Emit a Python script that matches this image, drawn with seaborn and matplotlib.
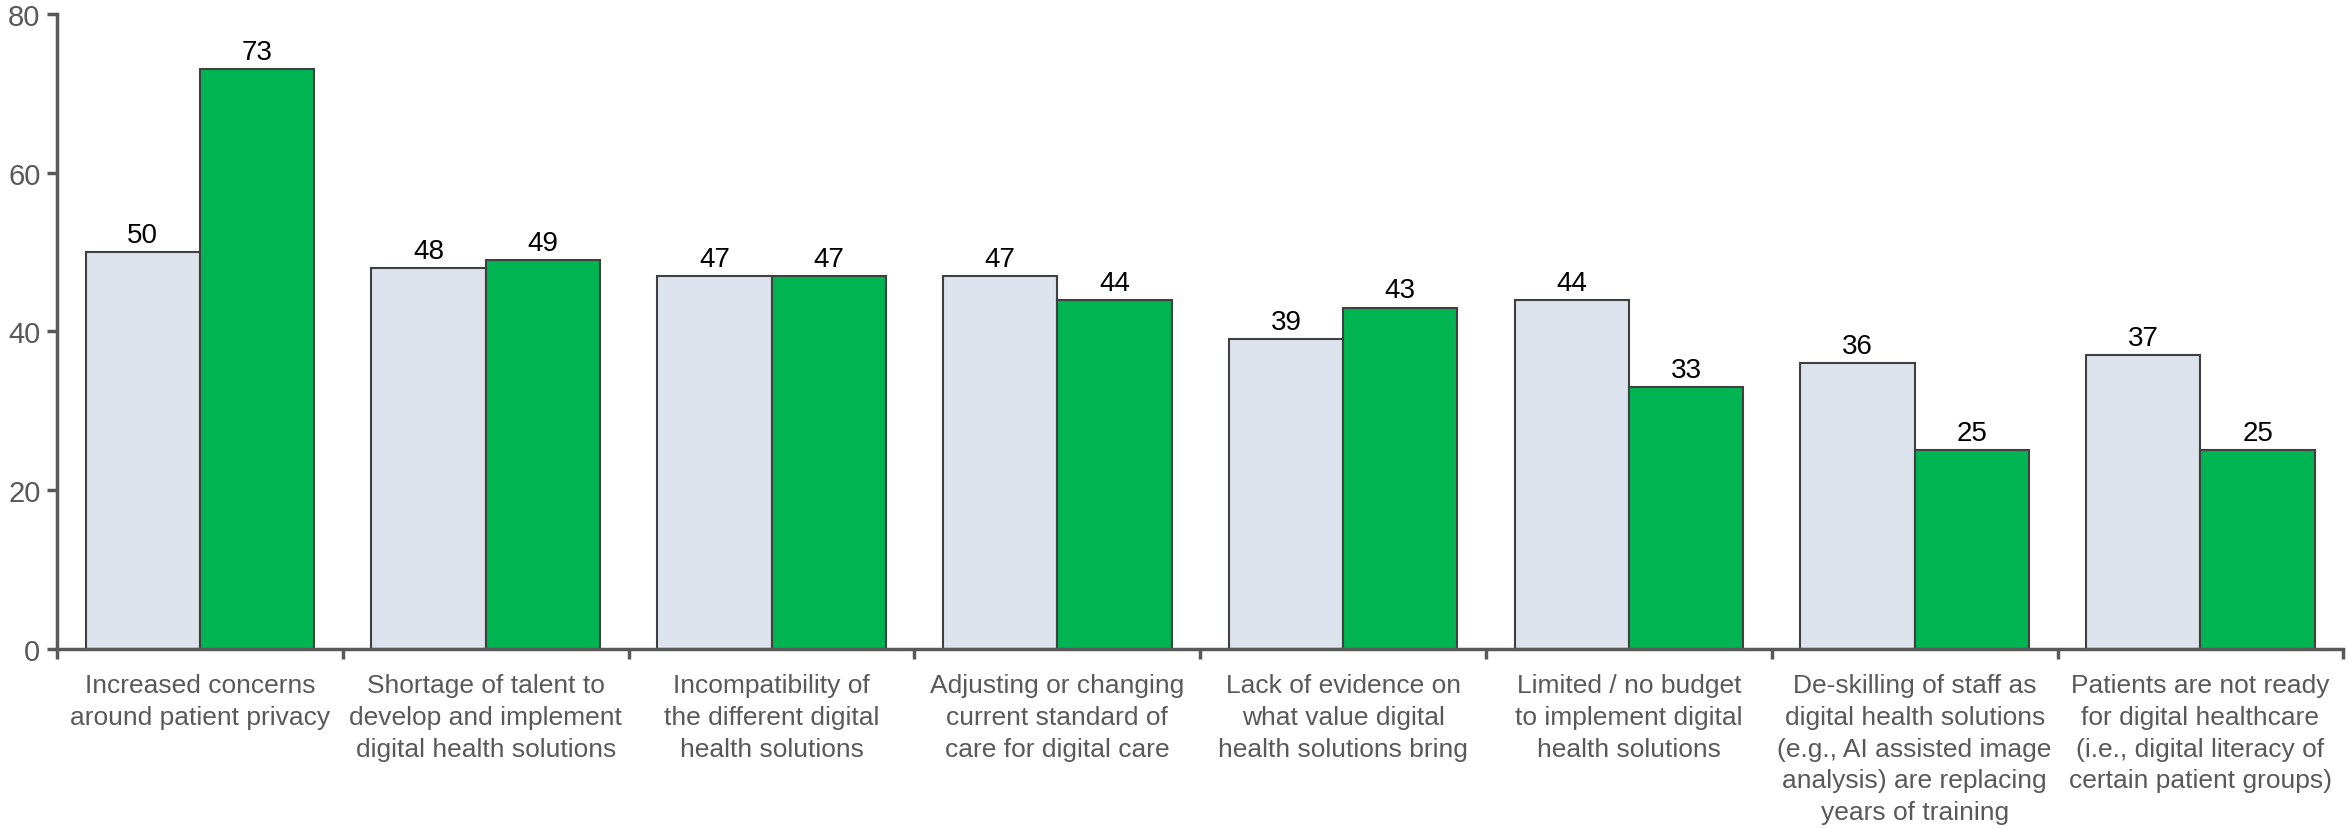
import matplotlib
matplotlib.use("Agg")
import matplotlib.pyplot as plt
import seaborn as sns
import pandas as pd
import numpy as np
from matplotlib.ticker import FixedLocator

categories = [
    "Increased concerns\naround patient privacy",
    "Shortage of talent to\ndevelop and implement\ndigital health solutions",
    "Incompatibility of\nthe different digital\nhealth solutions",
    "Adjusting or changing\ncurrent standard of\ncare for digital care",
    "Lack of evidence on\nwhat value digital\nhealth solutions bring",
    "Limited / no budget\nto implement digital\nhealth solutions",
    "De-skilling of staff as\ndigital health solutions\n(e.g., AI assisted image\nanalysis) are replacing\nyears of training",
    "Patients are not ready\nfor digital healthcare\n(i.e., digital literacy of\ncertain patient groups)",
]
series_names = ["Baseline", "Current"]
baseline_values = [50, 48, 47, 47, 39, 44, 36, 37]
current_values = [73, 49, 47, 44, 43, 33, 25, 25]
y_ticks = [0, 20, 40, 60, 80]

df = pd.DataFrame({
    "category": categories * 2,
    "series": [series_names[0]] * len(categories) + [series_names[1]] * len(categories),
    "value": baseline_values + current_values,
})

sns.set_theme(style="white")
plt.rcParams["font.family"] = ["Liberation Sans", "DejaVu Sans"]

axis_grey = "#595959"
fig = plt.figure(figsize=(23.48, 8.29), dpi=100)
ax = fig.add_axes([0.0243, 0.216, 0.9737, 0.766])

sns.barplot(
    data=df, x="category", y="value", hue="series", order=categories,
    hue_order=series_names, palette=["#DCE3EC", "#00B451"], saturation=1,
    width=0.8, edgecolor="#404040", linewidth=1.5, legend=False, ax=ax,
)

for container in ax.containers:
    ax.bar_label(container, fmt="%d", padding=3, fontsize=20, color="#000000")

ax.set_ylim(0, 80)
ax.set_xlim(-0.5, len(categories) - 0.5)
ax.set_yticks(y_ticks)
ax.set_xticks(range(len(categories)), labels=categories, linespacing=1.42)
ax.set_xlabel("")
ax.set_ylabel("")

for side in ["top", "right"]:
    ax.spines[side].set_visible(False)
for side in ["left", "bottom"]:
    ax.spines[side].set_color(axis_grey)
    ax.spines[side].set_linewidth(2.5)

ax.tick_params(axis="y", which="major", direction="out", length=7, width=2.5,
               color=axis_grey, labelsize=21, labelcolor=axis_grey, pad=5, left=True)
ax.tick_params(axis="x", which="major", length=0, labelsize=19,
               labelcolor=axis_grey, pad=17)
ax.xaxis.set_minor_locator(FixedLocator(np.arange(-0.5, len(categories), 1.0)))
ax.tick_params(axis="x", which="minor", direction="out", length=7, width=2.5,
               color=axis_grey, bottom=True)

fig.savefig("out.png", dpi=100)
